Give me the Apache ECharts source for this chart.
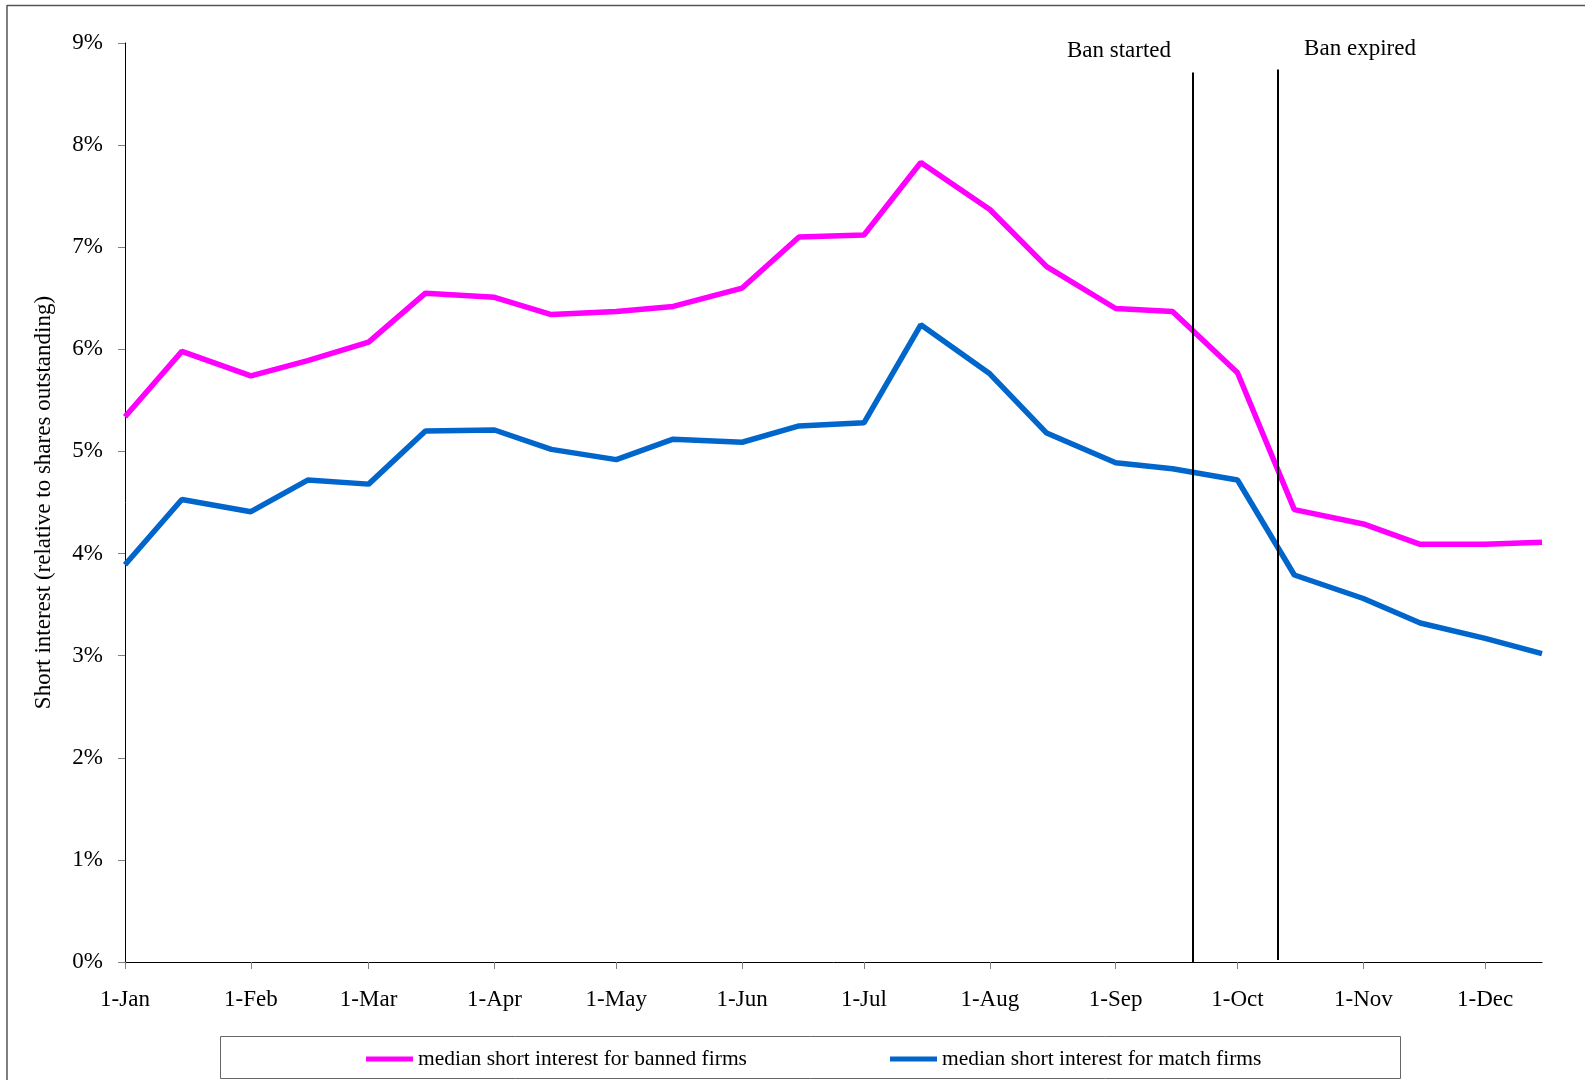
<!DOCTYPE html>
<html>
<head>
<meta charset="utf-8">
<title>Short interest, banned vs match firms</title>
<script src="https://cdn.jsdelivr.net/npm/echarts@6.0.0/dist/echarts.min.js"></script>
<style>
  html, body { margin: 0; padding: 0; background: #fff; }
  #main { width: 1585px; height: 1080px; }
</style>
</head>
<body>
<div id="main"></div>
<script>
// observation dates (1st and 15th of each month, 2008)
const dates = [
  '2008-01-01', '2008-01-15', '2008-02-01', '2008-02-15', '2008-03-01', '2008-03-15',
  '2008-04-01', '2008-04-15', '2008-05-01', '2008-05-15', '2008-06-01', '2008-06-15',
  '2008-07-01', '2008-07-15', '2008-08-01', '2008-08-15', '2008-09-01', '2008-09-15',
  '2008-10-01', '2008-10-15', '2008-11-01', '2008-11-15', '2008-12-01', '2008-12-15'
];
// median short interest, % of shares outstanding
const banned = [
  5.34, 5.98, 5.74, 5.89, 6.07, 6.55, 6.51, 6.34, 6.37, 6.42, 6.60, 7.10,
  7.12, 7.83, 7.37, 6.81, 6.40, 6.37, 5.77, 4.43, 4.29, 4.09, 4.09, 4.11
];
const matched = [
  3.89, 4.53, 4.41, 4.72, 4.68, 5.20, 5.21, 5.02, 4.92, 5.12, 5.09, 5.25,
  5.28, 6.24, 5.76, 5.18, 4.89, 4.83, 4.72, 3.79, 3.56, 3.32, 3.17, 3.02
];
const monthStarts = [
  '2008-01-01', '2008-02-01', '2008-03-01', '2008-04-01', '2008-05-01', '2008-06-01',
  '2008-07-01', '2008-08-01', '2008-09-01', '2008-10-01', '2008-11-01', '2008-12-01'
];
const monthLabels = ['1-Jan', '1-Feb', '1-Mar', '1-Apr', '1-May', '1-Jun',
                     '1-Jul', '1-Aug', '1-Sep', '1-Oct', '1-Nov', '1-Dec'];
const axisEnd = '2008-12-15';
const banStarted = '2008-09-20';
const banExpired = '2008-10-11';

const nameBanned = 'median short interest for banned firms';
const nameMatch = 'median short interest for match firms';

// day offset from 1 Jan, used as the x value
function day(s) {
  return (Date.parse(s) - Date.parse('2008-01-01')) / 86400000;
}

const tickDays = monthStarts.map(day);
const FONT = '"Liberation Serif", "Times New Roman", serif';

const chart = echarts.init(document.getElementById('main'));

chart.setOption({
  backgroundColor: '#fff',
  animation: false,
  grid: { left: 125, right: 43, top: 43, bottom: 118 },
  xAxis: {
    type: 'value',
    min: 0,
    max: day(axisEnd),
    axisLine: { lineStyle: { color: '#000', width: 1 } },
    axisTick: {
      customValues: tickDays,
      length: 7,
      lineStyle: { color: '#808080' }
    },
    axisLabel: {
      customValues: tickDays,
      margin: 26,
      color: '#000',
      fontFamily: FONT,
      fontSize: 23,
      formatter: v => monthLabels[tickDays.indexOf(v)] || ''
    },
    splitLine: { show: false }
  },
  yAxis: {
    type: 'value',
    min: 0,
    max: 9,
    interval: 1,
    name: 'Short interest (relative to shares outstanding)',
    nameLocation: 'middle',
    nameGap: 70,
    nameTextStyle: { color: '#000', fontFamily: FONT, fontSize: 23 },
    axisLine: { show: true, lineStyle: { color: '#000', width: 1 } },
    axisTick: { show: true, length: 7, lineStyle: { color: '#808080' } },
    axisLabel: {
      margin: 22,
      color: '#000',
      fontFamily: FONT,
      fontSize: 23,
      formatter: '{value}%'
    },
    splitLine: { show: false }
  },
  legend: [
    {
      data: [nameBanned],
      left: 366, top: 1048, padding: 0,
      icon: 'rect', itemWidth: 47, itemHeight: 5,
      textStyle: { color: '#000', fontFamily: FONT, fontSize: 21.5 }
    },
    {
      data: [nameMatch],
      left: 890, top: 1048, padding: 0,
      icon: 'rect', itemWidth: 47, itemHeight: 5,
      textStyle: { color: '#000', fontFamily: FONT, fontSize: 21.5 }
    }
  ],
  series: [
    {
      name: nameBanned,
      type: 'line',
      data: dates.map((d, i) => [day(d), banned[i]]),
      symbol: 'none',
      color: '#FF00FF',
      lineStyle: { width: 5.5, color: '#FF00FF' }
    },
    {
      name: nameMatch,
      type: 'line',
      data: dates.map((d, i) => [day(d), matched[i]]),
      symbol: 'none',
      color: '#0066CC',
      lineStyle: { width: 5.5, color: '#0066CC' },
      markLine: {
        silent: true,
        symbol: 'none',
        label: { show: false },
        lineStyle: { color: '#000', width: 2, type: 'solid' },
        data: [
          [{ coord: [day(banStarted), 8.71] }, { coord: [day(banStarted), 0] }],
          [{ coord: [day(banExpired), 8.74] }, { coord: [day(banExpired), 0.02] }]
        ]
      }
    }
  ],
  graphic: [
    // frame lines at top and left of the picture
    { type: 'line', shape: { x1: 7, y1: 5.5, x2: 1585, y2: 5.5 }, style: { stroke: '#555', lineWidth: 1.5 } },
    { type: 'line', shape: { x1: 7, y1: 5, x2: 7, y2: 1080 }, style: { stroke: '#555', lineWidth: 1.5 } },
    // legend box
    { type: 'rect', shape: { x: 220.5, y: 1036.5, width: 1180, height: 42 },
      style: { fill: 'none', stroke: '#666', lineWidth: 1 }, z: -1 },
    { type: 'text', x: 1119, y: 51,
      style: { text: 'Ban started', fill: '#000', font: '23px ' + FONT, textAlign: 'center', textVerticalAlign: 'middle' } },
    { type: 'text', x: 1360, y: 49,
      style: { text: 'Ban expired', fill: '#000', font: '23px ' + FONT, textAlign: 'center', textVerticalAlign: 'middle' } }
  ]
});
</script>
</body>
</html>
